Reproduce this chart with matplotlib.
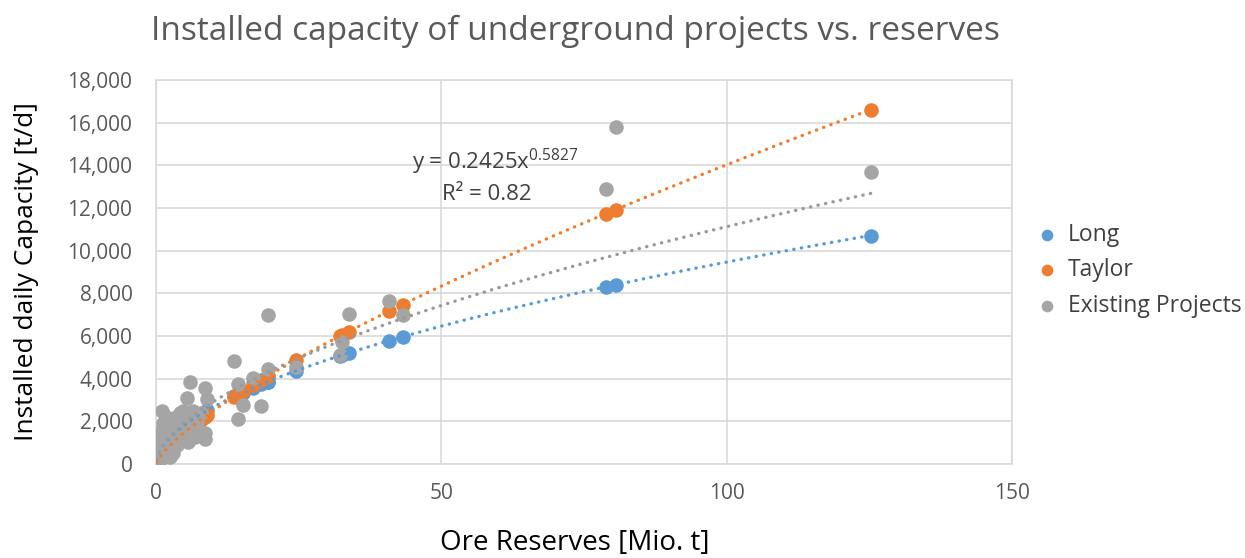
import numpy as np
import matplotlib.pyplot as plt

# Ore reserves [Mio. t] of each project
reserves = [0.1, 0.2, 0.4, 0.5, 0.7, 0.8, 1.0, 1.1, 1.2, 1.3,
            1.6, 1.8, 2.0, 2.2, 2.5, 2.5, 2.8, 3.0, 3.3, 3.5,
            3.6, 3.9, 4.0, 4.2, 4.6, 4.8, 5.1, 5.5, 5.6, 6.0,
            6.2, 6.5, 6.8, 7.2, 7.8, 8.5, 8.6, 8.6, 9.0, 13.7,
            14.4, 14.4, 15.2, 17.0, 18.4, 19.6, 19.6, 24.5, 32.3, 32.6,
            33.8, 40.8, 43.2, 78.8, 80.6, 125.3]

# Existing projects: installed daily capacity [t/d]
existing = [950, 420, 1200, 700, 200, 1500, 1600, 2500, 1100, 1900,
            800, 2200, 1400, 1700, 2050, 330, 1300, 520, 1750, 2200,
            900, 1270, 1500, 2400, 2050, 2500, 1700, 3080, 1050, 3820,
            1600, 2500, 1270, 1950, 2400, 3550, 1450, 1150, 3050, 4820,
            3750, 2120, 2770, 4050, 2720, 7000, 4450, 4550, 5100, 5700,
            7050, 7650, 7000, 12900, 15800, 13700]

# Capacity estimated with Long's rule [t/d]
long_cap = [210, 310, 450, 510, 620, 660, 750, 790, 830, 870,
            970, 1040, 1100, 1160, 1240, 1240, 1320, 1370, 1450, 1500,
            1520, 1590, 1610, 1650, 1740, 1780, 1840, 1920, 1940, 2010,
            2050, 2100, 2160, 2220, 2320, 2440, 2450, 2450, 2510, 3170,
            3260, 3260, 3350, 3570, 3730, 3860, 3860, 4360, 5080, 5100,
            5200, 5770, 5960, 8290, 8400, 10700]

# Capacity estimated with Taylor's rule [t/d]
taylor_cap = [80, 130, 220, 260, 340, 380, 440, 480, 510, 540,
              630, 690, 750, 800, 880, 880, 960, 1010, 1090, 1130,
              1160, 1230, 1250, 1300, 1390, 1440, 1500, 1590, 1610, 1700,
              1740, 1800, 1870, 1950, 2070, 2210, 2230, 2230, 2300, 3160,
              3280, 3280, 3410, 3710, 3940, 4130, 4130, 4880, 6010, 6050,
              6210, 7160, 7470, 11720, 11920, 16600]

# Power trendline shown on the chart for existing projects (x in tonnes)
trend_coef = 0.2425
trend_exp = 0.5827
trend_r2 = 0.82

blue = "#5B9BD5"
orange = "#ED7D31"
grey = "#A5A5A5"
text_col = "#595959"

plt.rcParams["font.family"] = ["Open Sans", "DejaVu Sans"]
plt.rcParams["mathtext.fontset"] = "custom"
plt.rcParams["mathtext.rm"] = "Open Sans"
plt.rcParams["mathtext.it"] = "Open Sans"

fig = plt.figure(figsize=(12.45, 5.58), dpi=100)
ax = fig.add_axes([0.1253, 0.1685, 0.6876, 0.6881])

x = np.array(reserves)
ax.scatter(x, long_cap, s=110, color=blue, label="Long", zorder=3, linewidths=0)
ax.scatter(x, taylor_cap, s=110, color=orange, label="Taylor", zorder=3, linewidths=0)
ax.scatter(x, existing, s=110, color=grey, label="Existing Projects", zorder=3, linewidths=0)

# dotted power trendlines
xs = np.linspace(x.min(), x.max(), 300)
dot_style = dict(linestyle=(0, (0.1, 2.2)), dash_capstyle="round", lw=2.4, zorder=4)
for vals, col in [(long_cap, blue), (taylor_cap, orange)]:
    b, a = np.polyfit(np.log(x), np.log(vals), 1)
    ax.plot(xs, np.exp(a) * xs ** b, color=col, **dot_style)
ax.plot(xs, trend_coef * (xs * 1e6) ** trend_exp, color="#9A9A9A", **dot_style)

# trendline equation label
ax.text(59.4, 14160, "y = 0.2425x$^{0.5827}$", ha="center", va="center",
        fontsize=16, color="#404040")
ax.text(58.0, 12610, f"R\u00b2 = {trend_r2}", ha="center", va="center",
        fontsize=16, color="#404040")

ax.set_xlim(0, 150)
ax.set_ylim(0, 18000)
ax.set_xticks([0, 50, 100, 150])
ax.set_yticks(np.arange(0, 18001, 2000))
ax.yaxis.set_major_formatter(plt.FuncFormatter(lambda v, p: f"{int(v):,}"))
ax.tick_params(length=0, labelsize=15, colors=text_col)
ax.tick_params(axis="y", pad=17)
ax.tick_params(axis="x", pad=14)
ax.grid(True, color="#D9D9D9", lw=1.2)
ax.set_axisbelow(True)
for s in ax.spines.values():
    s.set_color("#D9D9D9")
    s.set_linewidth(1.2)

fig.text(0.462, 0.027, "Ore Reserves [Mio. t]", ha="center", va="center",
         fontsize=20, color="black")
fig.text(0.021, 0.514, "Installed daily Capacity [t/d]", ha="center", va="center",
         rotation=90, fontsize=19, color="black")
fig.text(0.462, 0.943, "Installed capacity of underground projects vs. reserves",
         ha="center", va="center", fontsize=24, color=text_col)

ax.legend(loc="center left", bbox_to_anchor=(1.028, 0.505), frameon=False, fontsize=16.5,
          labelcolor="#404040", handletextpad=0.4, handlelength=1.0, borderpad=0,
          borderaxespad=0, markerscale=0.8, labelspacing=0.5)

fig.savefig("out.png", dpi=100)
